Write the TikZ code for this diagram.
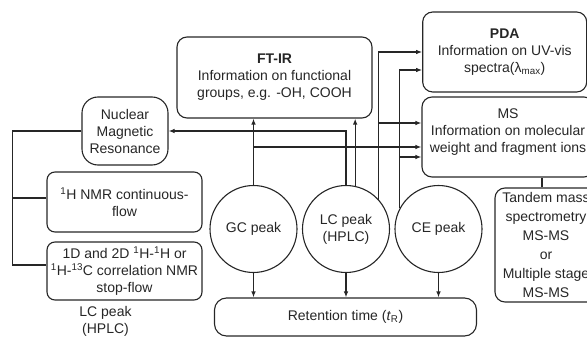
\documentclass[tikz,border=0pt]{standalone}
\usepackage{fontspec}
\setmainfont{Liberation Sans}
\usetikzlibrary{arrows.meta,calc}
\begin{document}
\begin{tikzpicture}[x=1pt,y=-1pt,line width=1.1pt,black!85,
		font=\fontsize{14pt}{17pt}\selectfont,
		box/.style={draw,rounded corners=10pt,align=center,inner sep=0pt},
		peak/.style={draw,circle,minimum size=87pt,align=center,inner sep=0pt},
		arr/.style={-{Latex[length=6pt,width=4.5pt]}}]
			\useasboundingbox (0,0) rectangle (587,337);
			\clip (0,0) rectangle (587,337);
			\node (ftir) [box,minimum width=195pt,minimum height=81pt] at (274.5,77.5) {\textbf{FT-IR}\\Information on functional\\groups, e.g. -OH, COOH};
			\node (pda) [box,minimum width=164pt,minimum height=80pt] at (504.7,52) {\textbf{PDA}\\Information on UV-vis\\spectra(λ\textsubscript{max})};
			\node (ms) [box,minimum width=172pt,minimum height=80pt,text depth=12pt] at (508,137) {MS\\Information on molecular\\weight and fragment ions};
			\node (tandem) [box,minimum width=102pt,minimum height=114pt,font=\fontsize{14pt}{19pt}\selectfont] at (546,245) {Tandem mass\\spectrometry\\MS-MS\\or\\Multiple stage\\MS-MS};
			\node (nmr) [box,rounded corners=16pt,minimum width=86pt,minimum height=68pt] at (125,131) {Nuclear\\Magnetic\\Resonance};
			\node (cflow) [box,rounded corners=8pt,minimum width=155pt,minimum height=60pt] at (124.5,202) {\textsuperscript{1}H NMR continuous-\\flow};
			\node (stopflow) [box,rounded corners=8pt,minimum width=155pt,minimum height=58pt] at (124.5,271) {1D and 2D \textsuperscript{1}H-\textsuperscript{1}H or\\\textsuperscript{1}H-\textsuperscript{13}C correlation NMR\\stop-flow};
			\node (lclabel) [align=center,inner sep=0pt] at (105.5,321) {LC peak\\(HPLC)};
			\node (gc) [peak] at (253.5,229) {GC peak};
			\node (lc) [peak] at (346,229) {LC peak\\(HPLC)};
			\node (ce) [peak] at (438.5,229) {CE peak};
			\node (rt) [box,rounded corners=12pt,minimum width=262pt,minimum height=38pt] at (345.5,317) {Retention time (\textit{t}\textsubscript{R})};
			\draw [arr] (gc.north) -- (gc.north |- ftir.south);
			\draw [arr] ($(gc.north |- ms.west)+(0,10)$) -- ($(ms.west)+(0,10)$);
			\draw [arr] (lc.north) |- (nmr.east);
			\draw [arr] (lc.78) -- (lc.78 |- ftir.south);
			\draw [arr] (lc.42) |- (pda.west);
			\draw [arr] (lc.42) |- ($(ms.west)+(0,-14)$);
			\draw [arr] (ce.152) |- ($(pda.west)+(0,18)$);
			\draw [arr] (ce.152) |- ($(ms.west)+(0,20)$);
			\draw [arr] (gc.south) -- (gc.south |- rt.north);
			\draw [arr] (lc.south) -- (lc.south |- rt.north);
			\draw [arr] (ce.south) -- (ce.south |- rt.north);
			\draw ($(tandem.north)+(-4,0)$) -- ($(tandem.north |- ms.south)+(-4,0)$);
			\draw (nmr.west) -- ++(-69,0) coordinate (bus) |- ($(stopflow.west)+(0,-6)$);
			\draw ($(bus |- cflow.west)+(0,-4)$) -- ($(cflow.west)+(0,-4)$);
		\end{tikzpicture}
\end{document}
